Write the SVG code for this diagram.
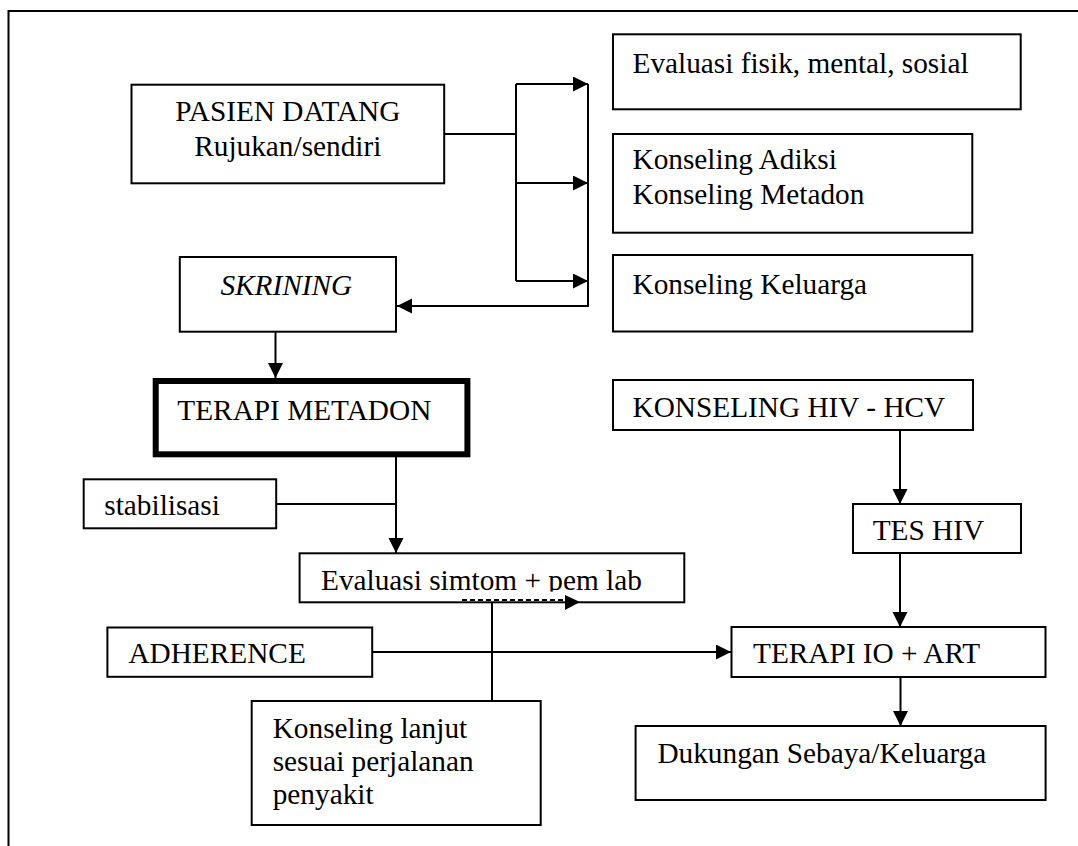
<svg xmlns="http://www.w3.org/2000/svg" width="1078" height="846" viewBox="0 0 1078 846">
<defs>
<style>
.box{fill:#fff;stroke:#000;stroke-width:2}
.thick{fill:#fff;stroke:#000;stroke-width:6}
.t{font-family:"Liberation Serif","Times New Roman",serif;font-size:29.3px;fill:#000}
.it{font-style:italic}
.c{fill:none;stroke:#000;stroke-width:2}
.a{marker-end:url(#ah)}
</style>
<marker id="ah" markerUnits="userSpaceOnUse" markerWidth="16" markerHeight="16" refX="15" refY="7.5" orient="auto">
<path d="M0,0 L15,7.5 L0,15 z" fill="#000"/>
</marker>
</defs>
<rect width="1078" height="846" fill="#fff"/>
<path d="M8.5,846 V11 H1078" fill="none" stroke="#000" stroke-width="2"/>
<g id="connectors">
<path class="c" d="M444,134 H516"/>
<path class="c" d="M516,84 V281"/>
<path class="c a" d="M516,84 H588"/>
<path class="c a" d="M516,183 H588"/>
<path class="c a" d="M516,281 H588"/>
<path class="c a" d="M588,84 V306 H397"/>
<path class="c a" d="M275.5,332 V378"/>
<path class="c a" d="M396,457 V553"/>
<path class="c" d="M276,504 H396"/>
<path class="c" d="M492,602 V701"/>
<path class="c a" d="M372,652 H731"/>
<path class="c a" d="M900,430 V504"/>
<path class="c a" d="M900,553 V627"/>
<path class="c a" d="M900.5,677 V726"/>
</g>
<g id="pasien"><rect class="box" x="131.5" y="84.7" width="312.7" height="98.6"/>
<text class="t" x="287.8" y="120.7" text-anchor="middle">PASIEN DATANG</text>
<text class="t" x="287.8" y="156" text-anchor="middle">Rujukan/sendiri</text></g>
<g id="evaluasi-fisik"><rect class="box" x="613" y="34.3" width="407.7" height="75"/>
<text class="t" x="632.5" y="72.5">Evaluasi fisik, mental, sosial</text></g>
<g id="konseling-adiksi"><rect class="box" x="613" y="134" width="359.3" height="98.7"/>
<text class="t" x="632.5" y="169.3">Konseling Adiksi</text>
<text class="t" x="632.5" y="204">Konseling Metadon</text></g>
<g id="konseling-keluarga"><rect class="box" x="613" y="255" width="359.3" height="76.5"/>
<text class="t" x="632.5" y="294.3">Konseling Keluarga</text></g>
<g id="skrining"><rect class="box" x="179.8" y="257" width="216.2" height="74.7"/>
<text class="t it" x="220.4" y="295">SKRINING</text></g>
<g id="terapi-metadon"><rect class="thick" x="155.7" y="381" width="311.7" height="73.3"/>
<text class="t" x="177.3" y="420">TERAPI METADON</text></g>
<g id="stabilisasi"><rect class="box" x="83.7" y="479.3" width="192.5" height="49"/>
<text class="t" x="104.3" y="515">stabilisasi</text></g>
<g id="evaluasi-simtom"><rect class="box" x="299.6" y="553.3" width="384.7" height="49"/>
<text class="t" x="321" y="590">Evaluasi simtom + pem lab</text>
<rect x="461" y="591.6" width="104" height="8.4" fill="#fff"/>
<path d="M462,600 H565" fill="none" stroke="#000" stroke-width="2" stroke-dasharray="5,3"/>
<path d="M565,595 L580,602 L565,610 z" fill="#000"/></g>
<g id="adherence"><rect class="box" x="107.4" y="627.5" width="264.8" height="49.3"/>
<text class="t" x="128.4" y="663.3">ADHERENCE</text></g>
<g id="konseling-lanjut"><rect class="box" x="251.7" y="701" width="289" height="124"/>
<text class="t" x="272.7" y="738.3">Konseling lanjut</text>
<text class="t" x="272.7" y="771.3">sesuai perjalanan</text>
<text class="t" x="272.7" y="804.3">penyakit</text></g>
<g id="konseling-hiv"><rect class="box" x="613" y="380" width="360" height="50"/>
<text class="t" x="632.5" y="416.5">KONSELING HIV - HCV</text></g>
<g id="tes-hiv"><rect class="box" x="853" y="504" width="168" height="49"/>
<text class="t" x="872.7" y="540">TES HIV</text></g>
<g id="terapi-io"><rect class="box" x="731.5" y="627" width="314" height="50"/>
<text class="t" x="753" y="663.3">TERAPI IO + ART</text></g>
<g id="dukungan"><rect class="box" x="635.6" y="726" width="410" height="74"/>
<text class="t" x="657.4" y="762.7">Dukungan Sebaya/Keluarga</text></g>
</svg>
